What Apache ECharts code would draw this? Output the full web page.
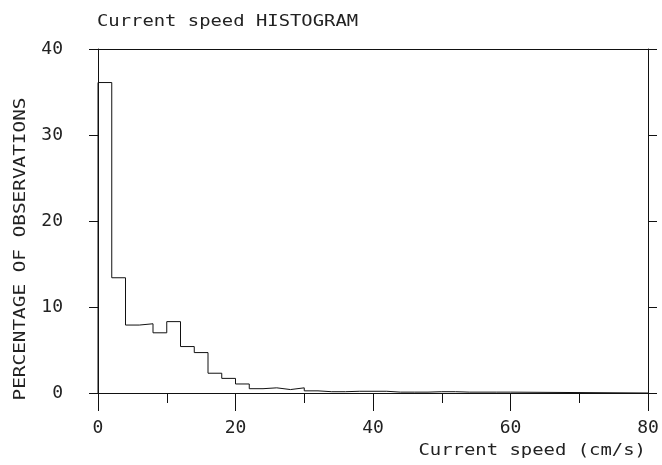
<!DOCTYPE html>
<html><head><meta charset="utf-8">
<script src="https://cdn.jsdelivr.net/npm/echarts@6/dist/echarts.min.js"></script>
<style>html,body{margin:0;padding:0;background:#fff}#c{width:662px;height:465px}</style>
</head><body><div id="c"></div>
<script>
// Histogram bins (cm/s, left edge of each 2 cm/s bin)
const binStarts = [0,2,4,6,8,10,12,14,16,18,20,22,24,26,28,30,32,34,36,38,40,42,44,46,48,50,52,54,56,58];
// Percentage of observations in each bin
const percentages = [36.1,13.4,7.9,8.05,7.0,8.3,5.4,4.7,2.3,1.7,1.05,0.5,0.6,0.4,0.6,0.25,0.15,0.15,0.2,0.2,0.2,0.1,0.1,0.1,0.15,0.15,0.1,0.1,0.1,0.1];
const binWidth = 2;
const xMin = 0, xMax = 80;
const yMin = 0, yMax = 40;
const titleText = 'Current speed HISTOGRAM';
const xName = 'Current speed (cm/s)';
const yName = 'PERCENTAGE OF OBSERVATIONS';

const FONT = 'DejaVu Sans Mono';
const INK = '#111';
const TXT = '#222';

// step outline built from the bins
const stepData = [[binStarts[0], 0]];
binStarts.forEach((b, i) => stepData.push([b, percentages[i]]));
const lastEdge = binStarts[binStarts.length - 1] + binWidth;
stepData.push([lastEdge, 0]);
stepData.push([xMax, 0]);

const chart = echarts.init(document.getElementById('c'), null, {renderer: 'canvas'});
const axLine = {show: true, onZero: false, lineStyle: {color: INK, width: 1}};
chart.setOption({
  animation: false,
  backgroundColor: '#fff',
  grid: {left: 98, top: 49, width: 550, height: 344, containLabel: false},
  xAxis: [
    {type: 'value', min: xMin, max: xMax, interval: 20, position: 'bottom',
     axisLine: axLine, axisTick: {show: true, length: 18, lineStyle: {color: INK}},
     axisLabel: {margin: 26, fontFamily: FONT, fontSize: 18, color: TXT},
     splitLine: {show: false}},
    {type: 'value', min: xMin, max: xMax, interval: 10, position: 'bottom',
     axisLine: {show: false, onZero: false}, axisTick: {show: true, length: 10, lineStyle: {color: INK}},
     axisLabel: {show: false}, splitLine: {show: false}},
    {type: 'value', min: xMin, max: xMax, interval: 20, position: 'top',
     axisLine: axLine, axisTick: {show: false}, axisLabel: {show: false}, splitLine: {show: false}}
  ],
  yAxis: [
    {type: 'value', min: yMin, max: yMax, interval: 10, position: 'left',
     axisLine: axLine, axisTick: {show: true, length: 9, lineStyle: {color: INK}},
     axisLabel: {margin: 35, fontFamily: FONT, fontSize: 18, color: TXT},
     splitLine: {show: false}},
    {type: 'value', min: yMin, max: yMax, interval: 10, position: 'right',
     axisLine: axLine, axisTick: {show: true, length: 9, lineStyle: {color: INK}},
     axisLabel: {show: false}, splitLine: {show: false}}
  ],
  graphic: [
    {type: 'text', x: 97, y: 22, scaleX: 1.257,
     style: {text: titleText, fontFamily: FONT, fontSize: 15, fill: TXT, align: 'left', verticalAlign: 'middle'}},
    {type: 'text', x: 21, y: 249, rotation: Math.PI / 2, scaleX: 1.29,
     style: {text: yName, fontFamily: FONT, fontSize: 15, fill: TXT, align: 'center', verticalAlign: 'middle'}},
    {type: 'text', x: 646, y: 451, scaleX: 1.26,
     style: {text: xName, fontFamily: FONT, fontSize: 15, fill: TXT, align: 'right', verticalAlign: 'middle'}}
  ],
  series: [{
    type: 'line', xAxisIndex: 0, yAxisIndex: 0, step: 'end',
    data: stepData, showSymbol: false, symbol: 'none',
    lineStyle: {color: INK, width: 1}, clip: false
  }]
});
</script></body></html>
